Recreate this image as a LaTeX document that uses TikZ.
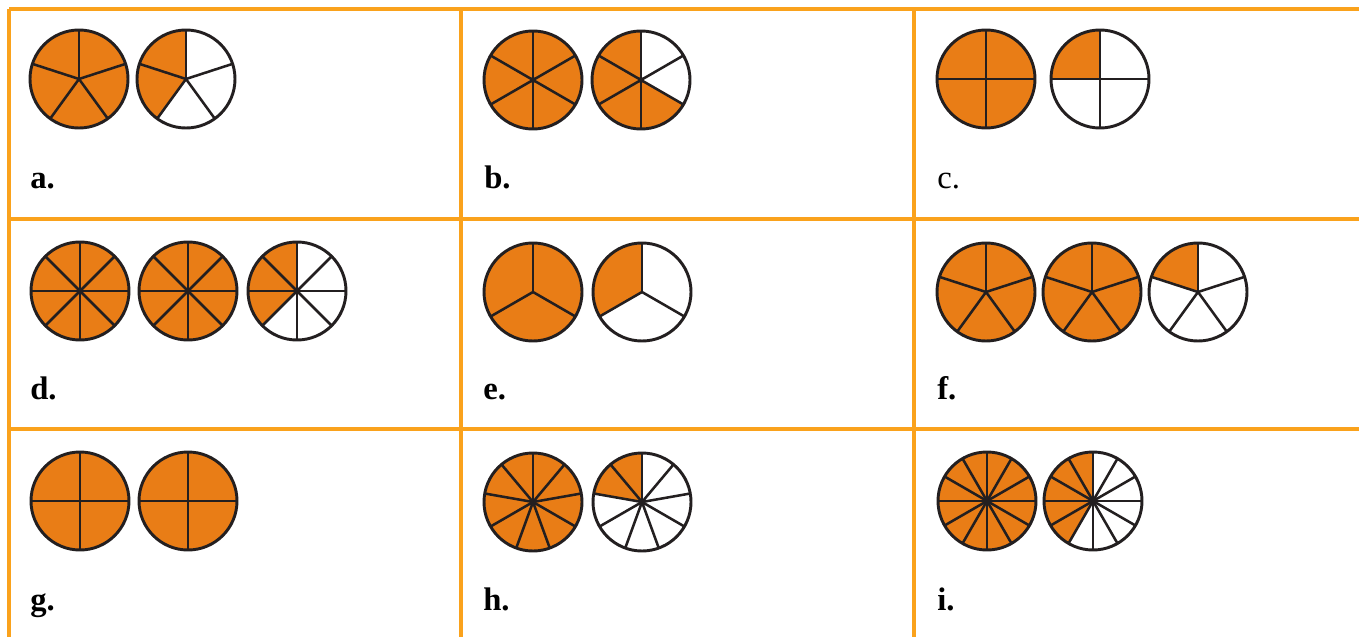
\documentclass[tikz,border=0pt]{standalone}
\usepackage{xcolor}
\usepackage{fontspec}
\setmainfont{Liberation Serif}
\usepackage{tikz}
\usetikzlibrary{positioning}
\definecolor{piefill}{HTML}{E97D16}
\definecolor{gridorange}{HTML}{FAA21C}
\definecolor{pieline}{HTML}{231F20}

\tikzset{
  gridline/.style={draw=gridorange, line width=2.4pt},
  spoke/.style={draw=pieline, line width=1.9pt},
  rim/.style={draw=pieline, line width=2.2pt},
  tasklabel/.style={anchor=base west, inner sep=0pt, font=\fontsize{24.5}{28}\selectfont\bfseries}
}
\def\pierad{49}
\newcommand{\fracpie}[3]{%
  \fill[white] (#1) circle[radius=\pierad];
  \ifnum#3>0
    \fill[piefill] (#1) -- ++(90:\pierad) arc[start angle=90, delta angle={360*#3/#2}, radius=\pierad] -- cycle;
  \fi
  \foreach \k in {1,...,#2} \draw[spoke] (#1) -- ++({90+360*\k/#2}:\pierad);
  \ifnum#2>5 \fill[pieline] (#1) circle[radius=3];\fi
  \draw[rim] (#1) circle[radius=\pierad];}

\begin{document}
\begin{tikzpicture}[x=0.75pt, y=0.75pt]
    \useasboundingbox (0,0) rectangle (1359,637);
    \draw[gridline] (9,628) -- (1359,628);
    \draw[gridline] (9,418) -- (1359,418);
    \draw[gridline] (9,208) -- (1359,208);
    \draw[gridline] (9,628) -- (9,0);
    \draw[gridline] (461,628) -- (461,0);
    \draw[gridline] (914,628) -- (914,0);

    \fracpie{79,558}{5}{5}
    \fracpie{186,558}{5}{2}
    \fracpie{533,557}{6}{6}
    \fracpie{641,557}{6}{4}
    \fracpie{986,558}{4}{4}
    \fracpie{1100,558}{4}{1}

    \fracpie{80,346}{8}{8}
    \fracpie{188,346}{8}{8}
    \fracpie{297,346}{8}{3}
    \fracpie{533,345}{3}{3}
    \fracpie{642,345}{3}{1}
    \fracpie{986,345}{5}{5}
    \fracpie{1092,345}{5}{5}
    \fracpie{1198,345}{5}{1}

    \fracpie{80,136}{4}{4}
    \fracpie{188,136}{4}{4}
    \fracpie{533,135}{9}{9}
    \fracpie{642,135}{9}{2}
    \fracpie{987,136}{12}{12}
    \fracpie{1093,136}{12}{5}

    \node[tasklabel] (lbla) at (30,449) {a.};
    \node[tasklabel] (lblb) at (484,449) {b.};
    \node[tasklabel, font=\fontsize{24.5}{28}\selectfont\mdseries] (lblc) at (937,449) {c.};
    \node[tasklabel] (lbld) at (30,238) {d.};
    \node[tasklabel] (lble) at (483,238) {e.};
    \node[tasklabel] (lblf) at (937,238) {f.};
    \node[tasklabel] (lblg) at (30,27) {g.};
    \node[tasklabel] (lblh) at (483,27) {h.};
    \node[tasklabel] (lbli) at (937,27) {i.};
  \end{tikzpicture}
\end{document}
